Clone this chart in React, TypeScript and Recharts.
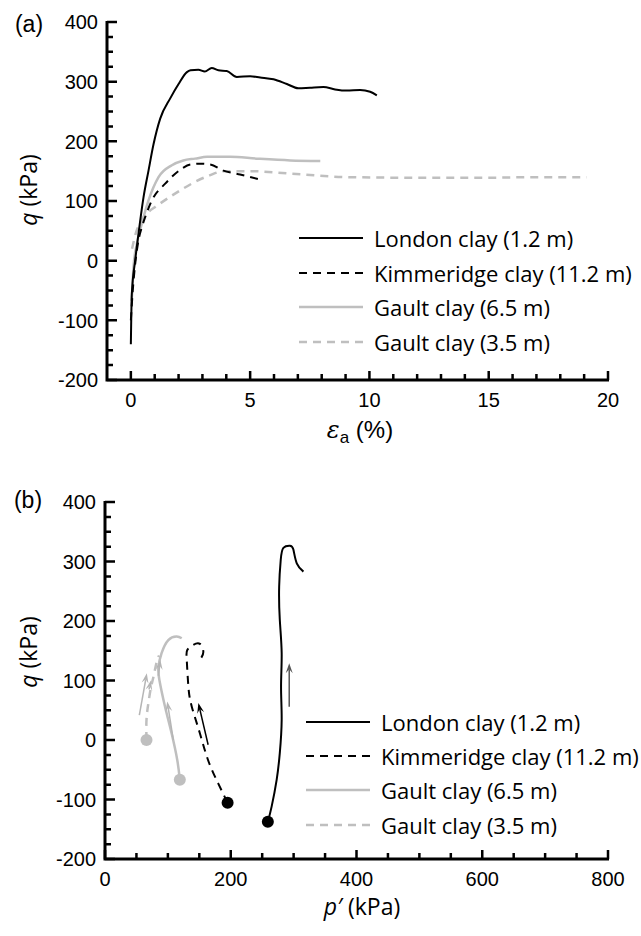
import React from 'react';
import { LineChart, Line, XAxis, YAxis, ReferenceDot, ReferenceLine } from 'recharts';

type Pt = [number, number];

// (a) deviator stress q (kPa) vs axial strain (%)
const londonA: Pt[] = [
  [0, -140], [0.04, -56], [0.18, 0], [0.32, 45], [0.53, 106], [0.74, 151], [0.95, 195], [1.23, 238],
  [1.65, 272], [2.0, 296], [2.35, 316], [2.5, 319], [2.83, 320], [3.1, 317], [3.39, 323], [3.67, 319],
  [4.02, 318], [4.44, 308], [5.0, 309], [5.42, 307], [5.98, 304], [6.54, 296], [7.02, 289], [7.51, 290],
  [8.07, 291], [8.56, 287], [9.05, 285], [9.61, 286], [10.03, 283], [10.31, 277],
];
const kimmA: Pt[] = [
  [0, -100], [0.08, -50], [0.18, -6], [0.32, 34], [0.46, 56], [0.6, 73], [0.88, 101], [1.44, 129],
  [2.13, 154], [2.49, 161], [2.9, 162.5], [3.33, 161], [3.88, 151], [4.58, 144.5], [5.42, 136],
];
const gault65A: Pt[] = [
  [0.02, -67], [0.04, -62], [0.11, -11], [0.25, 28], [0.46, 62], [0.74, 101], [1.16, 140], [1.72, 160],
  [2.2, 168], [2.69, 171], [3.2, 174], [4.16, 174], [5.28, 171], [6.68, 168], [7.94, 167],
];
const gault35A: Pt[] = [
  [0.05, 20], [0.2, 45], [0.45, 68], [0.75, 82], [1.02, 90], [1.72, 109], [2.69, 132], [3.3, 143], [3.88, 150],
  [5.0, 150], [6.68, 146], [9.1, 140], [12, 139], [15, 139], [17, 140], [19.1, 140],
];

// (b) stress paths q vs p' (kPa)
const londonB: Pt[] = [
  [259, -137.5], [265, -112], [273, -67], [278, -22], [281, 34], [280, 90], [281, 146], [278, 202],
  [277, 258], [279.5, 303], [283.7, 323], [294, 326.6], [299.6, 320], [305, 297], [315.6, 283],
];
const kimmB: Pt[] = [
  [195, -105.5], [180, -73], [164, -34], [151, 11], [138, 56], [132.6, 90], [130, 135], [131, 151.5],
  [140.5, 160], [151, 161.6], [156.4, 148.6], [153, 138],
];
const gault65B: Pt[] = [
  [119, -67], [115, -34], [106, 11], [95.5, 56], [86.5, 101], [85, 123], [90, 146], [100.7, 168], [114, 174], [122, 171],
];
const gault35B: Pt[] = [
  [66, 0], [66, 34], [69, 62], [73, 88], [77, 106], [82, 130], [86, 142],
];

// direction arrows in (b): [p from, q from, p to, q to]
const arrowsB: { seg: [number, number, number, number]; color: string }[] = [
  { seg: [293, 56, 293, 129], color: '#555555' },
  { seg: [164, -8, 148.5, 62], color: '#000000' },
  { seg: [108.7, 0, 99, 64.5], color: '#b5b5b5' },
  { seg: [85, 108, 88, 135], color: '#b5b5b5' },
  { seg: [54.6, 42, 66.5, 112], color: '#b5b5b5' },
  { seg: [70, 85, 73, 100], color: '#b5b5b5' },
];

const names = ['London clay (1.2 m)', 'Kimmeridge clay (11.2 m)', 'Gault clay (6.5 m)', 'Gault clay (3.5 m)'];
const colors = ['#000000', '#000000', '#bfbfbf', '#bfbfbf'];
const dashes = ['', '8 6', '', '8 6'];
const widths = [2, 2, 2.5, 2.5];

const yTicks = [-200, -100, 0, 100, 200, 300, 400];
const xTicksA = [0, 5, 10, 15, 20];
const xTicksB = [0, 200, 400, 600, 800];

const minor = (from: number, to: number, step: number) => {
  const out: number[] = [];
  for (let v = from; v <= to; v += step) out.push(v);
  return out;
};

const rows = (pts: Pt[]) => pts.map(([x, q]) => ({ x, q }));

const INK = '#000000';
const tickFont = 'Liberation Sans, Arial, sans-serif';

// panel geometry: the chart margins below are derived from these
const W = 641;
const Y_AXIS_W = 60;
const X_AXIS_H = 40;
const geoA = { top: 0, height: 470, left: 107, right: 608, plotTop: 22, plotBottom: 380, xDom: [-1, 20] as [number, number], xStep: 1, xMajor: xTicksA };
const geoB = { top: 470, height: 466, left: 105, right: 608, plotTop: 32, plotBottom: 389, xDom: [0, 800] as [number, number], xStep: 50, xMajor: xTicksB };

const marginOf = (g: typeof geoA) => ({
  top: g.plotTop,
  right: W - g.right,
  bottom: g.height - g.plotBottom - X_AXIS_H,
  left: g.left - Y_AXIS_W,
});

// tick labels (majors only)
const makeYTick = (major: number[]) => (props: any) => {
  const x = Number(props.x);
  const y = Number(props.y);
  const v = props.payload.value;
  if (!major.includes(v)) return <g />;
  return (
    <text x={x - 9} y={y} dy="0.36em" textAnchor="end" fontSize={20} fontFamily={tickFont} fill={INK}>
      {v}
    </text>
  );
};

const makeXTick = (major: number[]) => (props: any) => {
  const x = Number(props.x);
  const y = Number(props.y);
  const v = props.payload.value;
  if (!major.includes(v)) return <g />;
  return (
    <text x={x} y={y + 20} dy="0.36em" textAnchor="middle" fontSize={20} fontFamily={tickFont} fill={INK}>
      {v}
    </text>
  );
};

const arrowShape = (color: string) => (props: any) => {
  const x1 = Number(props.x1);
  const y1 = Number(props.y1);
  const x2 = Number(props.x2);
  const y2 = Number(props.y2);
  const a = Math.atan2(y2 - y1, x2 - x1);
  const L = 10;
  const H = 3.5;
  const bx = x2 - L * Math.cos(a);
  const by = y2 - L * Math.sin(a);
  const nx = -Math.sin(a) * H;
  const ny = Math.cos(a) * H;
  const mx = x2 - L * 0.6 * Math.cos(a);
  const my = y2 - L * 0.6 * Math.sin(a);
  return (
    <g>
      <path d={`M${x1},${y1} L${mx},${my}`} stroke={color} strokeWidth={1.5} fill="none" />
      <path d={`M${x2},${y2} L${bx + nx},${by + ny} L${mx},${my} L${bx - nx},${by - ny} Z`} fill={color} />
    </g>
  );
};

// frame + inward tick marks for one panel, in a plain svg overlay
function Frame({ g }: { g: typeof geoA }) {
  const [x0, x1] = g.xDom;
  const top = g.top + g.plotTop;
  const bottom = g.top + g.plotBottom;
  const px = (v: number) => g.left + ((v - x0) / (x1 - x0)) * (g.right - g.left);
  const py = (v: number) => bottom - ((v + 200) / 600) * (bottom - top);
  const xt = minor(x0 < 0 ? 0 : x0, x1, g.xStep);
  const yt = minor(-200, 400, 25);
  let d = '';
  yt.forEach((v) => {
    d += `M${g.left},${py(v)}h${yTicks.includes(v) ? 10 : 6}`;
  });
  xt.forEach((v) => {
    d += `M${px(v)},${bottom}v${g.xMajor.includes(v) ? -9 : -6}`;
  });
  return (
    <g>
      <path d={d} stroke={INK} strokeWidth={2.5} fill="none" />
      <path d={`M${g.left},${top - 1}V${bottom}H${g.right + 1}`} stroke={INK} strokeWidth={3} fill="none" />
    </g>
  );
}

const legendFont = '"Open Sans", "Noto Sans", sans-serif';

function Legend({ left, top, gap }: { left: number; top: number; gap: number }) {
  return (
    <div style={{ position: 'absolute', left, top }}>
      {names.map((n, i) => (
        <div key={n} style={{ position: 'absolute', left: 0, top: i * gap - 17, height: 34, display: 'flex', alignItems: 'center', whiteSpace: 'nowrap' }}>
          <svg width={66} height={10} style={{ display: 'block' }}>
            <line x1={1} x2={65} y1={5} y2={5} stroke={colors[i]} strokeWidth={widths[i]} strokeDasharray={dashes[i] || undefined} />
          </svg>
          <span style={{ marginLeft: 10, fontFamily: legendFont, fontSize: 22, color: INK }}>{n}</span>
        </div>
      ))}
    </div>
  );
}

const abs = (left: number, top: number, extra: React.CSSProperties = {}): React.CSSProperties => ({
  position: 'absolute',
  left,
  top,
  transform: 'translate(-50%, -50%)',
  whiteSpace: 'nowrap',
  color: INK,
  ...extra,
});

function axes(g: typeof geoA) {
  const [x0, x1] = g.xDom;
  return [
    <XAxis
      key="x"
      type="number"
      dataKey="x"
      domain={g.xDom}
      ticks={minor(x0 < 0 ? 0 : x0, x1, g.xStep)}
      interval={0}
      height={X_AXIS_H}
      axisLine={false}
      tickLine={false}
      tickSize={0}
      tickMargin={0}
      tick={makeXTick(g.xMajor)}
    />,
    <YAxis
      key="y"
      type="number"
      dataKey="q"
      domain={[-200, 400]}
      ticks={minor(-200, 400, 25)}
      interval={0}
      width={Y_AXIS_W}
      axisLine={false}
      tickLine={false}
      tickSize={0}
      tickMargin={0}
      tick={makeYTick(yTicks)}
    />,
  ];
}

export default function App() {
  const seriesA = [londonA, kimmA, gault65A, gault35A];
  const seriesB = [londonB, kimmB, gault65B, gault35B];
  return (
    <div style={{ position: 'absolute', left: 0, top: 0, width: 641, height: 936, background: '#ffffff' }}>
      <div style={{ position: 'absolute', left: 0, top: geoA.top }}>
        <LineChart width={W} height={geoA.height} margin={marginOf(geoA)}>
          {axes(geoA)}
          {seriesA
            .map((s, i) => (
              <Line
                key={names[i]}
                data={rows(s)}
                dataKey="q"
                name={names[i]}
                type="monotone"
                stroke={colors[i]}
                strokeWidth={widths[i]}
                strokeDasharray={dashes[i] || undefined}
                dot={false}
                activeDot={false}
                isAnimationActive={false}
              />
            ))
            .reverse()}
        </LineChart>
      </div>

      <div style={{ position: 'absolute', left: 0, top: geoB.top }}>
        <LineChart width={W} height={geoB.height} margin={marginOf(geoB)}>
          {axes(geoB)}
          {seriesB.map((s, i) => (
            <Line
              key={names[i]}
              data={rows(s)}
              dataKey="q"
              name={names[i]}
              type="natural"
              stroke={colors[i]}
              strokeWidth={widths[i]}
              strokeDasharray={dashes[i] || undefined}
              dot={false}
              activeDot={false}
              isAnimationActive={false}
            />
          ))}
          {arrowsB.map((a, i) => (
            <ReferenceLine
              key={'arr' + i}
              segment={[{ x: a.seg[0], y: a.seg[1] }, { x: a.seg[2], y: a.seg[3] }]}
              shape={arrowShape(a.color)}
            />
          ))}
          {seriesB.map((s, i) => (
            <ReferenceDot key={'dot' + i} x={s[0][0]} y={s[0][1]} r={6} fill={colors[i]} stroke="none" />
          ))}
        </LineChart>
      </div>

      <svg width={W} height={936} style={{ position: 'absolute', left: 0, top: 0, pointerEvents: 'none' }}>
        <Frame g={geoA} />
        <Frame g={geoB} />
      </svg>

      <Legend left={298} top={238} gap={34.5} />
      <Legend left={305} top={722} gap={34.2} />

      <div style={abs(29, 24, { fontFamily: tickFont, fontSize: 23 })}>(a)</div>
      <div style={abs(28, 500, { fontFamily: tickFont, fontSize: 23 })}>(b)</div>

      <div style={abs(28, 190, { fontFamily: legendFont, fontSize: 23, transform: 'translate(-50%, -50%) rotate(-90deg)' })}>
        <i>q</i> (kPa)
      </div>
      <div style={abs(28, 652, { fontFamily: legendFont, fontSize: 23, transform: 'translate(-50%, -50%) rotate(-90deg)' })}>
        <i>q</i> (kPa)
      </div>
      <div style={abs(360, 432, { fontFamily: tickFont, fontSize: 24 })}>
        <i style={{ fontFamily: 'DejaVu Serif, serif' }}>ε</i>
        <sub style={{ fontSize: 17 }}>a</sub> (%)
      </div>
      <div style={abs(362, 906, { fontFamily: legendFont, fontSize: 23 })}>
        <i>p′</i> (kPa)
      </div>
    </div>
  );
}
